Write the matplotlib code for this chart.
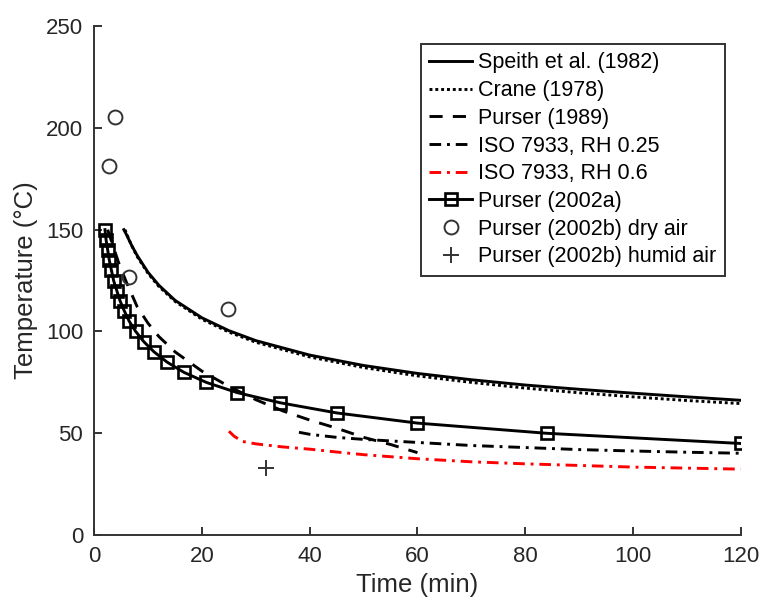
import matplotlib
matplotlib.use("Agg")
import matplotlib.pyplot as plt

plt.rcParams['font.family'] = ['Liberation Sans', 'DejaVu Sans']

# Speith et al. (1982)
speith_t = [5.5, 6, 7, 8, 10, 12, 15, 20, 25, 30, 40, 50, 60, 70, 80, 90, 100, 110, 120]
speith_T = [150, 147.5, 142, 137.2, 129, 122.7, 115.3, 106.7, 100.4, 95.5, 88.4, 83.3,
            79.4, 76.3, 73.7, 71.6, 69.7, 67.9, 66.2]

# Crane (1978)
crane_t = [5.7, 6, 7, 8, 10, 12, 15, 20, 25, 30, 40, 50, 60, 70, 80, 90, 100, 110, 120]
crane_T = [150, 148, 141.9, 136.7, 128.5, 122.1, 114.8, 106, 99.7, 94.7, 87.5, 82.3,
           78.2, 75, 72.2, 69.9, 67.9, 66.1, 64.6]

# Purser (1989)
p89_t = [2.5, 3.5, 4.5, 6, 8, 10, 12, 15, 20, 25, 30, 35, 40, 45, 50, 55, 60]
p89_T = [150, 142, 134, 124, 112, 104, 97.5, 90, 80.5, 73, 66.5, 61, 56.5, 52.5, 48, 44.5, 40.5]

# ISO 7933, RH 0.25
iso25_t = [38, 40, 45, 50, 60, 70, 80, 90, 100, 110, 120]
iso25_T = [50.5, 49.5, 48, 47, 45.5, 44, 43, 42, 41.3, 40.7, 40.2]

# ISO 7933, RH 0.6
iso60_t = [25, 26, 27.5, 30, 35, 40, 45, 50, 60, 70, 80, 90, 100, 110, 120]
iso60_T = [51, 48.5, 46, 44.8, 43.3, 42.2, 40.8, 39.5, 37.5, 36, 35, 34.2, 33.4, 32.9, 32.4]

# Purser (2002a)
p02a_t = [2.0, 2.2, 2.5, 2.8, 3.2, 3.6, 4.2, 4.8, 5.6, 6.5, 7.7, 9.2, 11.1, 13.5, 16.6,
          20.8, 26.5, 34.5, 45, 60, 84, 120]
p02a_T = [150, 145, 140, 135, 130, 125, 120, 115, 110, 105, 100, 95, 90, 85, 80,
          75, 70, 65, 60, 55, 50, 45]

# Purser (2002b)
dry_t = [2.8, 3.9, 6.5, 24.9]
dry_T = [181.5, 205.5, 127, 111]
humid_t = [31.8]
humid_T = [33]

fig = plt.figure(figsize=(7.66, 6.06), dpi=100)
ax = fig.add_axes([0.123, 0.117, 0.844, 0.840])

dashdot = (0, (4, 2, 1, 2))
ax.plot(speith_t, speith_T, color='black', lw=2.1, label='Speith et al. (1982)')
ax.plot(crane_t, crane_T, color='black', lw=2.1, ls=(0, (1, 1)), label='Crane (1978)')
ax.plot(p89_t, p89_T, color='black', lw=2.1, ls=(0, (4.5, 3.5)), label='Purser (1989)')
ax.plot(iso25_t, iso25_T, color='black', lw=2.1, ls=dashdot, label='ISO 7933, RH 0.25')
ax.plot(iso60_t, iso60_T, color='red', lw=2.1, ls=dashdot, label='ISO 7933, RH 0.6')
ax.plot(p02a_t, p02a_T, color='black', lw=2.1, marker='s', ms=8.5, mfc='none', mew=1.9,
        label='Purser (2002a)')
ax.plot(dry_t, dry_T, ls='none', marker='o', ms=10, mfc='none', mec='#333333', mew=1.4,
        label='Purser (2002b) dry air')
ax.plot(humid_t, humid_T, ls='none', marker='+', ms=12, color='#333333', mew=1.4,
        label='Purser (2002b) humid air')

ax.set_xlim(0, 120)
ax.set_ylim(0, 250)
ax.set_xticks([0, 20, 40, 60, 80, 100, 120])
ax.set_yticks([0, 50, 100, 150, 200, 250])
ax.spines['top'].set_visible(False)
ax.spines['right'].set_visible(False)
for s in ['left', 'bottom']:
    ax.spines[s].set_color('#333333')
    ax.spines[s].set_linewidth(1.4)
ax.tick_params(direction='in', length=6, width=1.4, colors='#333333', labelsize=16,
               labelcolor='#262626', pad=8)
ax.set_xlabel('Time (min)', fontsize=18.5, color='#262626', labelpad=4)
ax.set_ylabel('Temperature (\u00b0C)', fontsize=18.5, color='#262626', labelpad=6)

leg = ax.legend(loc='upper left', bbox_to_anchor=(0.505, 0.965), fontsize=15.5,
                frameon=True, fancybox=False, framealpha=1, edgecolor='#333333',
                handlelength=2.0, handletextpad=0.28, labelspacing=0.31, borderpad=0.4,
                borderaxespad=0)
leg.get_frame().set_linewidth(1.4)

fig.savefig('out.png', dpi=100)
